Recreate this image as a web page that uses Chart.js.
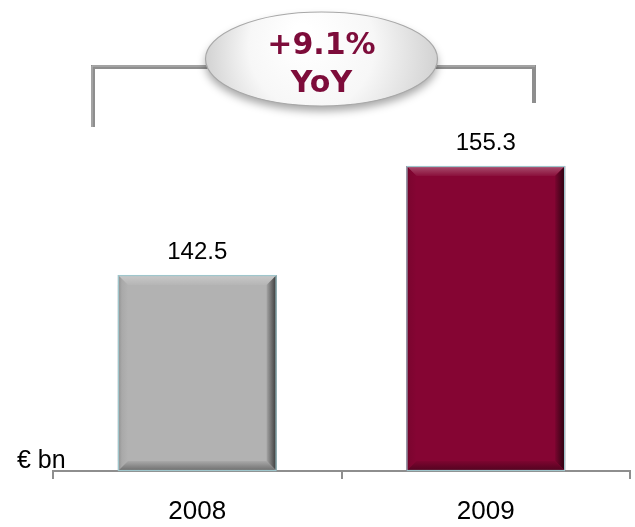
<!DOCTYPE html>
<html>
<head>
<meta charset="utf-8">
<style>
  html, body { margin: 0; padding: 0; background: #ffffff; }
  #wrap { width: 635px; height: 527px; }
</style>
<script src="https://cdn.jsdelivr.net/npm/chart.js@4/dist/chart.umd.min.js"></script>
</head>
<body>
<div id="wrap"><canvas id="c" width="635" height="527"></canvas></div>
<script>
// Revenue by year, € bn
const years = ['2008', '2009'];
const revenue = [142.5, 155.3];
const barColors = ['#b2b2b2', '#850533'];
const growthLines = ['+9.1%', 'YoY'];
const unitLabel = '€ bn';

const FONT = '"Liberation Sans", Arial, sans-serif';

function shade(hex, amt) {
  const n = parseInt(hex.slice(1), 16);
  let r = (n >> 16) & 255, g = (n >> 8) & 255, b = n & 255;
  const f = v => Math.max(0, Math.min(255, Math.round(amt >= 0 ? v + (255 - v) * amt : v * (1 + amt))));
  return `rgb(${f(r)},${f(g)},${f(b)})`;
}

// Bevelled edges on each bar plus the value above it
const barDecor = {
  id: 'barDecor',
  afterDatasetsDraw(chart) {
    const ctx = chart.ctx;
    const meta = chart.getDatasetMeta(0);
    meta.data.forEach((bar, i) => {
      const { x, y, base, width } = bar.getProps(['x', 'y', 'base', 'width'], true);
      const l = x - width / 2, r = x + width / 2, t = y;
      const b = Math.min(base, chart.chartArea.bottom);
      const bw = 10;
      const col = barColors[i];
      ctx.save();
      // top bevel
      let g = ctx.createLinearGradient(0, t, 0, t + bw);
      g.addColorStop(0, shade(col, 0.3));
      g.addColorStop(1, shade(col, 0.04));
      ctx.fillStyle = g;
      ctx.beginPath();
      ctx.moveTo(l, t); ctx.lineTo(r, t); ctx.lineTo(r - bw, t + bw); ctx.lineTo(l + bw, t + bw); ctx.closePath();
      ctx.fill();
      // left bevel
      g = ctx.createLinearGradient(l, 0, l + bw, 0);
      g.addColorStop(0, shade(col, -0.2));
      g.addColorStop(0.4, shade(col, -0.05));
      g.addColorStop(1, shade(col, 0));
      ctx.fillStyle = g;
      ctx.beginPath();
      ctx.moveTo(l, t); ctx.lineTo(l + bw, t + bw); ctx.lineTo(l + bw, b - bw); ctx.lineTo(l, b); ctx.closePath();
      ctx.fill();
      // right bevel
      g = ctx.createLinearGradient(r - bw, 0, r, 0);
      g.addColorStop(0, shade(col, -0.08));
      g.addColorStop(1, shade(col, -0.7));
      ctx.fillStyle = g;
      ctx.beginPath();
      ctx.moveTo(r, t); ctx.lineTo(r, b); ctx.lineTo(r - bw, b - bw); ctx.lineTo(r - bw, t + bw); ctx.closePath();
      ctx.fill();
      // bottom bevel
      g = ctx.createLinearGradient(0, b - bw, 0, b);
      g.addColorStop(0, shade(col, -0.05));
      g.addColorStop(1, shade(col, -0.4));
      ctx.fillStyle = g;
      ctx.beginPath();
      ctx.moveTo(l, b); ctx.lineTo(r, b); ctx.lineTo(r - bw, b - bw); ctx.lineTo(l + bw, b - bw); ctx.closePath();
      ctx.fill();
      // thin light outline
      ctx.strokeStyle = '#9fc6cc';
      ctx.lineWidth = 1.2;
      ctx.strokeRect(l + 0.5, t + 0.5, width - 1, b - t - 1);
      ctx.restore();

      // value label
      ctx.save();
      ctx.fillStyle = '#000';
      ctx.font = '24px ' + FONT;
      ctx.textAlign = 'center';
      ctx.textBaseline = 'middle';
      ctx.fillText(revenue[i].toFixed(1), x, t - 23);
      ctx.restore();
    });
  }
};

// Unit label, growth bracket and oval callout
const callout = {
  id: 'callout',
  afterDraw(chart) {
    const ctx = chart.ctx;
    ctx.save();
    ctx.fillStyle = '#000';
    ctx.font = '25px ' + FONT;
    ctx.textAlign = 'left';
    ctx.textBaseline = 'alphabetic';
    ctx.fillText(unitLabel, 17, 468);

    // bracket
    ctx.strokeStyle = '#8e8e8e';
    ctx.lineWidth = 4;
    ctx.lineCap = 'butt';
    ctx.beginPath();
    ctx.moveTo(93, 127); ctx.lineTo(93, 67); ctx.lineTo(534, 67); ctx.lineTo(534, 103);
    ctx.stroke();
    ctx.strokeStyle = '#b8b8b8';
    ctx.lineWidth = 1;
    ctx.beginPath();
    ctx.moveTo(92, 127); ctx.lineTo(92, 66); ctx.lineTo(535, 66);
    ctx.stroke();

    // oval
    const cx = 321.5, cy = 59, rx = 116, ry = 47;
    ctx.save();
    ctx.shadowColor = 'rgba(0,0,0,0.35)';
    ctx.shadowBlur = 8;
    ctx.shadowOffsetY = 5;
    const g = ctx.createRadialGradient(cx - 20, cy - 25, 10, cx, cy, rx);
    g.addColorStop(0, '#ffffff');
    g.addColorStop(0.5, '#f7f7f7');
    g.addColorStop(1, '#d2d2d2');
    ctx.fillStyle = g;
    ctx.beginPath();
    ctx.ellipse(cx, cy, rx, ry, 0, 0, Math.PI * 2);
    ctx.fill();
    ctx.restore();
    ctx.strokeStyle = '#a8a8a8';
    ctx.lineWidth = 1.2;
    ctx.beginPath();
    ctx.ellipse(cx, cy, rx, ry, 0, 0, Math.PI * 2);
    ctx.stroke();

    ctx.fillStyle = '#7d0c3a';
    ctx.font = 'bold 30px "DejaVu Sans", Verdana, sans-serif';
    ctx.textAlign = 'center';
    ctx.textBaseline = 'middle';
    ctx.fillText(growthLines[0], cx, 46);
    ctx.fillText(growthLines[1], cx, 84);
    ctx.restore();
  }
};

new Chart(document.getElementById('c'), {
  type: 'bar',
  data: {
    labels: years,
    datasets: [{
      data: revenue,
      backgroundColor: barColors,
      borderWidth: 0,
      categoryPercentage: 1,
      barPercentage: 0.55
    }]
  },
  options: {
    responsive: false,
    animation: false,
    devicePixelRatio: 1,
    layout: { padding: { left: 53, right: 5, top: 126, bottom: 0 } },
    plugins: { legend: { display: false }, tooltip: { enabled: false } },
    scales: {
      y: { display: false, min: 119.5, max: 160 },
      x: {
        afterFit(scale) { scale.height = 56; },
        border: { display: true, color: '#8e8e8e', width: 2 },
        grid: { drawOnChartArea: false, drawTicks: true, tickLength: 8, color: '#8e8e8e', lineWidth: 2, offset: true },
        ticks: { color: '#000', font: { family: FONT, size: 26 }, padding: 17 }
      }
    }
  },
  plugins: [barDecor, callout]
});
</script>
</body>
</html>
